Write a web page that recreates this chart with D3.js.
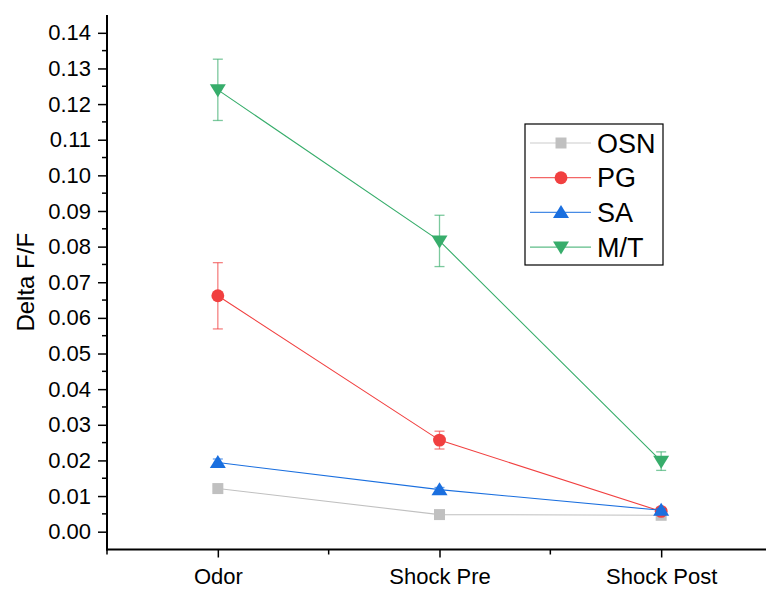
<!DOCTYPE html>
<html>
<head>
<meta charset="utf-8">
<script src="https://cdn.jsdelivr.net/npm/d3@7"></script>
<style>
  body { margin: 0; background: #fff; }
  svg { display: block; font-family: "Liberation Sans", Arial, sans-serif; }
</style>
</head>
<body>
<div id="chart"></div>
<script>
// Conditions along the x axis
const categories = ["Odor", "Shock Pre", "Shock Post"]

// Mean Delta F/F per series, and error (half bar height)
const osnValues = [0.0121, 0.0048, 0.0046]
const osnErrors = [0.0008, 0.0004, 0.0004]
const pgValues = [0.0662, 0.0257, 0.0057]
const pgErrors = [0.0093, 0.0025, 0.0008]
const saValues = [0.0194, 0.0118, 0.0060]
const saErrors = [0.0010, 0.0006, 0.0005]
const mtValues = [0.1240, 0.0816, 0.0198]
const mtErrors = [0.0086, 0.0072, 0.0026]

const yTicks = [0, 0.01, 0.02, 0.03, 0.04, 0.05, 0.06, 0.07, 0.08, 0.09, 0.10, 0.11, 0.12, 0.13, 0.14]

const series = [
  { name: "OSN", values: osnValues, errors: osnErrors, color: "#c0c0c0", symbol: "square" },
  { name: "PG", values: pgValues, errors: pgErrors, color: "#f14040", symbol: "circle" },
  { name: "SA", values: saValues, errors: saErrors, color: "#1a6fdf", symbol: "up" },
  { name: "M/T", values: mtValues, errors: mtErrors, color: "#37ad6b", symbol: "down" }
]

const width = 766
const height = 590

const svg = d3.select("#chart").append("svg")
  .attr("width", width)
  .attr("height", height)

// x positions 1..3 with half-step padding, the right end runs off the canvas
const x = d3.scaleLinear().domain([0.5, 3.5]).range([107, 772])
const y = d3.scaleLinear().domain([-0.005, 0.145]).range([549.5, 15])

function symbolPath(kind) {
  if (kind === "square") return d3.symbol(d3.symbolSquare, 121)()
  if (kind === "circle") return d3.symbol(d3.symbolCircle, 130)()
  if (kind === "up") return "M0,-7.5L8,5.5L-8,5.5Z"
  return "M0,7.5L8,-5.5L-8,-5.5Z"
}

// --- Series: line, error bars, markers ---
series.forEach(s => {
  const pts = s.values.map((v, i) => ({ i: i + 1, v, e: s.errors[i] }))
  const g = svg.append("g")

  g.append("path")
    .datum(pts)
    .attr("fill", "none")
    .attr("stroke", s.color)
    .attr("stroke-width", 1.1)
    .attr("d", d3.line().x(d => x(d.i)).y(d => y(d.v)))

  pts.forEach(d => {
    const cx = x(d.i)
    const y1 = y(d.v + d.e)
    const y2 = y(d.v - d.e)
    g.append("line")
      .attr("x1", cx).attr("x2", cx).attr("y1", y1).attr("y2", y2)
      .attr("stroke", s.color).attr("stroke-width", 1.3).attr("opacity", 0.65)
    ;[y1, y2].forEach(yy => {
      g.append("line")
        .attr("x1", cx - 5).attr("x2", cx + 5).attr("y1", yy).attr("y2", yy)
        .attr("stroke", s.color).attr("stroke-width", 1.3).attr("opacity", 0.65)
    })
  })

  g.selectAll("path.mark")
    .data(pts)
    .join("path")
    .attr("class", "mark")
    .attr("transform", d => `translate(${x(d.i)},${y(d.v)})`)
    .attr("d", symbolPath(s.symbol))
    .attr("fill", s.color)
})

// --- Axes ---
const yAxis = svg.append("g")
  .attr("transform", `translate(${x(0.5)},0)`)
  .call(d3.axisLeft(y).tickValues(yTicks).tickFormat(d3.format(".2f")).tickSize(9).tickPadding(7))
yAxis.select(".domain").remove()
yAxis.selectAll("text").attr("font-size", 22).attr("fill", "#000")
yAxis.selectAll(".tick line").attr("stroke", "#000").attr("stroke-width", 1.5)

// y minor ticks
svg.append("g")
  .selectAll("line")
  .data(d3.range(0.005, 0.145, 0.01))
  .join("line")
  .attr("x1", x(0.5) - 5).attr("x2", x(0.5))
  .attr("y1", d => y(d)).attr("y2", d => y(d))
  .attr("stroke", "#000").attr("stroke-width", 1.5)

const xAxis = svg.append("g")
  .attr("transform", `translate(0,${y(-0.005)})`)
  .call(d3.axisBottom(x).tickValues([1, 2, 3]).tickFormat(d => categories[d - 1]).tickSize(8).tickPadding(11))
xAxis.select(".domain").remove()
xAxis.selectAll("text").attr("font-size", 22).attr("fill", "#000")
xAxis.selectAll(".tick line").attr("stroke", "#000").attr("stroke-width", 1.5)

// x minor ticks
svg.append("g")
  .selectAll("line")
  .data([0.5, 1.5, 2.5, 3.5])
  .join("line")
  .attr("x1", d => x(d)).attr("x2", d => x(d))
  .attr("y1", y(-0.005)).attr("y2", y(-0.005) + 5)
  .attr("stroke", "#000").attr("stroke-width", 1.5)

// axis lines
svg.append("line")
  .attr("x1", x(0.5)).attr("x2", x(0.5))
  .attr("y1", y(0.145)).attr("y2", y(-0.005) + 1)
  .attr("stroke", "#000").attr("stroke-width", 2)
svg.append("line")
  .attr("x1", x(0.5) - 1).attr("x2", width)
  .attr("y1", y(-0.005)).attr("y2", y(-0.005))
  .attr("stroke", "#000").attr("stroke-width", 2)

// axis title
svg.append("text")
  .attr("transform", `translate(34,${(y(0.145) + y(-0.005)) / 2}) rotate(-90)`)
  .attr("text-anchor", "middle")
  .attr("font-size", 24)
  .attr("fill", "#000")
  .text("Delta F/F")

// --- Legend ---
const legend = svg.append("g").attr("transform", "translate(525,124)")
legend.append("rect")
  .attr("width", 138).attr("height", 141)
  .attr("fill", "#fff").attr("stroke", "#000").attr("stroke-width", 1.2)

series.forEach((s, i) => {
  const ly = 19 + i * 34.7
  const row = legend.append("g").attr("transform", `translate(0,${ly})`)
  row.append("line")
    .attr("x1", 5).attr("x2", 66).attr("y1", 0).attr("y2", 0)
    .attr("stroke", s.color).attr("stroke-width", 1.2).attr("opacity", 0.8)
  row.append("path")
    .attr("transform", "translate(36,0)")
    .attr("d", symbolPath(s.symbol))
    .attr("fill", s.color)
  row.append("text")
    .attr("x", 72).attr("y", 9.5)
    .attr("font-size", 27)
    .attr("fill", "#000")
    .text(s.name)
})
</script>
</body>
</html>
